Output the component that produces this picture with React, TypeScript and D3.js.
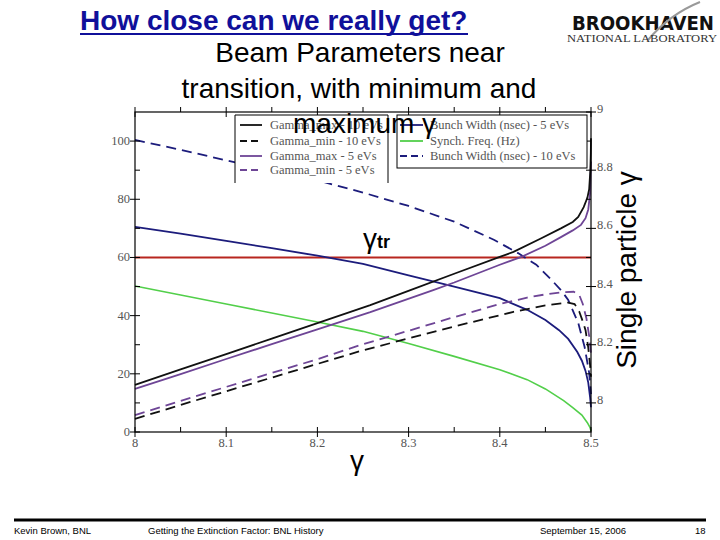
import * as d3 from "d3";

// ---- data ----
// x axis: single particle gamma; right axis: gamma of bunch edges; left axis: bunch width / synch freq
const gammaMax10: [number, number][] = [
  [8.0, 8.062], [8.05, 8.115], [8.1, 8.168], [8.15, 8.221], [8.2, 8.274], [8.258, 8.336],
  [8.302, 8.388], [8.35, 8.444], [8.4, 8.502], [8.415, 8.519], [8.445, 8.565], [8.467, 8.6],
  [8.48, 8.622], [8.486, 8.639], [8.492, 8.673], [8.496, 8.705], [8.498, 8.735], [8.4993, 8.8],
  [8.4998, 8.86], [8.5, 8.91],
];
const gammaMin10: [number, number][] = [
  [8.0, 7.945], [8.05, 7.993], [8.1, 8.04], [8.15, 8.087], [8.2, 8.134], [8.247, 8.178],
  [8.3, 8.222], [8.357, 8.268], [8.415, 8.313], [8.45, 8.335], [8.475, 8.345], [8.482, 8.34],
  [8.487, 8.315], [8.491, 8.28], [8.494, 8.25], [8.497, 8.19], [8.499, 8.13], [8.5, 8.09],
];
const gammaMax5: [number, number][] = [
  [8.0, 8.048], [8.05, 8.099], [8.1, 8.151], [8.15, 8.202], [8.2, 8.253], [8.258, 8.312],
  [8.327, 8.388], [8.35, 8.414], [8.4, 8.475], [8.423, 8.501], [8.45, 8.54], [8.467, 8.57],
  [8.48, 8.593], [8.489, 8.612], [8.494, 8.635], [8.497, 8.665], [8.499, 8.72], [8.4995, 8.78],
  [8.5, 8.83],
];
const gammaMin5: [number, number][] = [
  [8.0, 7.958], [8.05, 8.007], [8.1, 8.055], [8.15, 8.103], [8.2, 8.15], [8.247, 8.199],
  [8.3, 8.248], [8.35, 8.295], [8.4, 8.34], [8.43, 8.362], [8.45, 8.373], [8.467, 8.38],
  [8.481, 8.382], [8.487, 8.372], [8.491, 8.34], [8.495, 8.29], [8.498, 8.23], [8.5, 8.17],
];
const bunchWidth5: [number, number][] = [
  [8.0, 70.5], [8.05, 68.2], [8.1, 65.7], [8.15, 63.2], [8.2, 60.6], [8.25, 57.8], [8.3, 53.8],
  [8.35, 50.0], [8.4, 46.0], [8.43, 42.0], [8.45, 38.5], [8.465, 35.0], [8.475, 32.0],
  [8.485, 27.5], [8.49, 24.5], [8.494, 21.0], [8.497, 17.0], [8.499, 12.0], [8.5, 8.5],
];
const bunchWidth10: [number, number][] = [
  [8.0, 100.4], [8.05, 97.0], [8.1, 93.4], [8.15, 89.9], [8.2, 86.5], [8.25, 82.3], [8.3, 77.7],
  [8.35, 72.3], [8.394, 66.0], [8.42, 61.5], [8.44, 57.5], [8.456, 52.5], [8.467, 48.8],
  [8.475, 45.4], [8.486, 37.5], [8.493, 29.2], [8.498, 20.3], [8.5, 13.0],
];
const synchFreq: [number, number][] = [
  [8.0, 50.2], [8.05, 47.1], [8.1, 44.0], [8.15, 40.9], [8.2, 37.8], [8.25, 34.6], [8.3, 30.4],
  [8.35, 26.0], [8.4, 21.4], [8.43, 18.0], [8.45, 14.8], [8.47, 10.8], [8.48, 8.4], [8.49, 5.8],
  [8.496, 3.2], [8.499, 1.5], [8.5, 0.3],
];
const gammaTr = 8.5;

const xTicks = [8, 8.1, 8.2, 8.3, 8.4, 8.5];
const xMinor = [8.05, 8.15, 8.25, 8.35, 8.45];
const leftTicks = [0, 20, 40, 60, 80, 100];
const leftMinor = [10, 30, 50, 70, 90];
const rightTicks = [8, 8.2, 8.4, 8.6, 8.8, 9];
const rightMinor = [8.1, 8.3, 8.5, 8.7, 8.9];

const legendLeft = [
  "Gamma_max - 10 eVs",
  "Gamma_min - 10 eVs",
  "Gamma_max - 5 eVs",
  "Gamma_min - 5 eVs",
];
const legendRight = [
  "Bunch Width (nsec) - 5 eVs",
  "Synch. Freq. (Hz)",
  "Bunch Width (nsec) - 10 eVs",
];

const NAVY = "#1c1c7c";
const PURPLE = "#6e4596";
const GREEN = "#52cf4a";
const RED = "#b8261f";
const GRAY = "#555";
const SERIF = "'Liberation Serif', 'Times New Roman', serif";
const SANS = "'Liberation Sans', Arial, sans-serif";

export default function App() {
  const x = d3.scaleLinear().domain([8, 8.5]).range([135, 591]);
  const yL = d3.scaleLinear().domain([0, 110]).range([432, 112]);
  const yR = d3.scaleLinear().domain([7.9, 9]).range([432, 112]);

  const lineL = d3.line<[number, number]>().x((d) => x(d[0])).y((d) => yL(d[1]));
  const lineR = d3.line<[number, number]>().x((d) => x(d[0])).y((d) => yR(d[1]));

  const [x0, x1] = x.range();
  const [yb, yt] = yL.range();

  const series = [
    { d: lineL(synchFreq), color: GREEN, w: 1.6, dash: undefined },
    { d: lineL(bunchWidth5), color: NAVY, w: 1.8, dash: undefined },
    { d: lineL(bunchWidth10), color: NAVY, w: 1.8, dash: "10,6" },
    { d: lineR(gammaMin10), color: "#111", w: 1.8, dash: "10,6" },
    { d: lineR(gammaMin5), color: PURPLE, w: 1.8, dash: "10,6" },
    { d: lineR(gammaMax5), color: PURPLE, w: 1.8, dash: undefined },
    { d: lineR(gammaMax10), color: "#111", w: 1.8, dash: undefined },
  ];

  const legL = [
    { color: "#111", dash: undefined },
    { color: "#111", dash: "7,4" },
    { color: PURPLE, dash: undefined },
    { color: PURPLE, dash: "7,4" },
  ];
  const legR = [
    { color: NAVY, dash: undefined },
    { color: GREEN, dash: undefined },
    { color: NAVY, dash: "7,4" },
  ];
  const rowL = [125, 141, 156, 170];
  const rowR = [125, 141, 156];

  return (
    <svg
      width={720}
      height={540}
      style={{ position: "absolute", left: 0, top: 0, background: "#fff" }}
    >
      {/* header */}
      <text x={80} y={30} fontFamily={SANS} fontWeight="bold" fontSize={28} fill="#10109a">
        How close can we really get?
      </text>
      <line x1={80} x2={468} y1={34} y2={34} stroke="#10109a" strokeWidth={2} />
      <text x={572} y={30} fontFamily="'DejaVu Sans', sans-serif" fontWeight="bold" fontSize={20}
        textLength={142} lengthAdjust="spacingAndGlyphs" fill="#111">
        BROOKHAVEN
      </text>
      <path d="M648,40 Q670,14 700,2" fill="none" stroke="#999" strokeWidth={2} />
      <text x={567} y={42} fontFamily={SERIF} fontSize={10.5} textLength={150}
        lengthAdjust="spacingAndGlyphs" fill="#333">
        NATIONAL LABORATORY
      </text>
      <g fontFamily={SANS} fontSize={28} textAnchor="middle" fill="#000">
        <text x={360} y={62}>Beam Parameters near</text>
        <text x={359} y={98}>transition, with minimum and</text>
      </g>

      {/* curves */}
      <line x1={x0} x2={x1} y1={yR(gammaTr)} y2={yR(gammaTr)} stroke={RED} strokeWidth={2} />
      {series.map((s, i) => (
        <path key={i} d={s.d ?? ""} fill="none" stroke={s.color} strokeWidth={s.w}
          strokeDasharray={s.dash} />
      ))}

      {/* frame and ticks */}
      <rect x={x0} y={yt} width={x1 - x0} height={yb - yt} fill="none" stroke="#000" strokeWidth={1.2} />
      <g stroke="#000" strokeWidth={1}>
        {xTicks.map((t) => (
          <g key={"x" + t}>
            <line x1={x(t)} x2={x(t)} y1={yb - 5} y2={yb + 5} />
            <line x1={x(t)} x2={x(t)} y1={yt - 5} y2={yt + 5} />
          </g>
        ))}
        {xMinor.map((t) => (
          <g key={"xm" + t}>
            <line x1={x(t)} x2={x(t)} y1={yb - 5} y2={yb} />
            <line x1={x(t)} x2={x(t)} y1={yt - 5} y2={yt} />
          </g>
        ))}
        {leftTicks.map((t) => (
          <line key={"l" + t} x1={x0 - 5} x2={x0 + 5} y1={yL(t)} y2={yL(t)} />
        ))}
        {leftMinor.map((t) => (
          <line key={"lm" + t} x1={x0} x2={x0 + 5} y1={yL(t)} y2={yL(t)} />
        ))}
        {rightTicks.map((t) => (
          <line key={"r" + t} x1={x1 - 5} x2={x1 + 5} y1={yR(t)} y2={yR(t)} />
        ))}
        {rightMinor.map((t) => (
          <line key={"rm" + t} x1={x1 - 5} x2={x1} y1={yR(t)} y2={yR(t)} />
        ))}
      </g>
      <g fontFamily={SERIF} fontSize={12.5} fill={GRAY}>
        {xTicks.map((t) => (
          <text key={"xt" + t} x={x(t)} y={yb + 15} textAnchor="middle">{String(t)}</text>
        ))}
        {leftTicks.map((t) => (
          <text key={"lt" + t} x={x0 - 5} y={yL(t) + 4} textAnchor="end">{String(t)}</text>
        ))}
        {rightTicks.map((t) => (
          <text key={"rt" + t} x={x1 + 6} y={yR(t) + 1} textAnchor="start">{String(t)}</text>
        ))}
      </g>

      {/* legend */}
      <rect x={235} y={115} width={153} height={68} fill="#fff" stroke="none" />
      <path d="M235,183 V115 H388 V183" fill="none" stroke="#000" strokeWidth={1} />
      <rect x={397} y={115} width={190} height={53} fill="#fff" stroke="#000" strokeWidth={1} />
      {legendLeft.map((label, i) => (
        <g key={"ll" + i}>
          <line x1={240} x2={262} y1={rowL[i]} y2={rowL[i]} stroke={legL[i].color}
            strokeWidth={1.8} strokeDasharray={legL[i].dash} />
          <text x={270} y={rowL[i] + 4} fontFamily={SERIF} fontSize={12.5} fill={GRAY}>{label}</text>
        </g>
      ))}
      {legendRight.map((label, i) => (
        <g key={"lr" + i}>
          <line x1={400} x2={423} y1={rowR[i]} y2={rowR[i]} stroke={legR[i].color}
            strokeWidth={1.8} strokeDasharray={legR[i].dash} />
          <text x={430} y={rowR[i] + 4} fontFamily={SERIF} fontSize={12.5} fill={GRAY}>{label}</text>
        </g>
      ))}
      <text x={293} y={133} fontFamily={SANS} fontSize={28} fill="#000">maximum γ</text>

      {/* labels */}
      <text x={363} y={248} fontFamily={SANS} fontSize={28} fill="#000">
        γ<tspan fontSize={18} fontWeight="bold">tr</tspan>
      </text>
      <text x={357} y={470} fontFamily={SANS} fontSize={28} textAnchor="middle" fill="#000">γ</text>
      <text transform="translate(636,270) rotate(-90)" fontFamily={SANS} fontSize={28}
        textAnchor="middle" fill="#000">
        Single particle γ
      </text>

      {/* footer */}
      <line x1={14} x2={706} y1={520} y2={520} stroke="#000" strokeWidth={3} />
      <g fontFamily={SANS} fontSize={9.5} fill="#000">
        <text x={14} y={534}>Kevin Brown, BNL</text>
        <text x={148} y={534}>Getting the Extinction Factor: BNL History</text>
        <text x={540} y={534}>September 15, 2006</text>
        <text x={695} y={534}>18</text>
      </g>
    </svg>
  );
}
